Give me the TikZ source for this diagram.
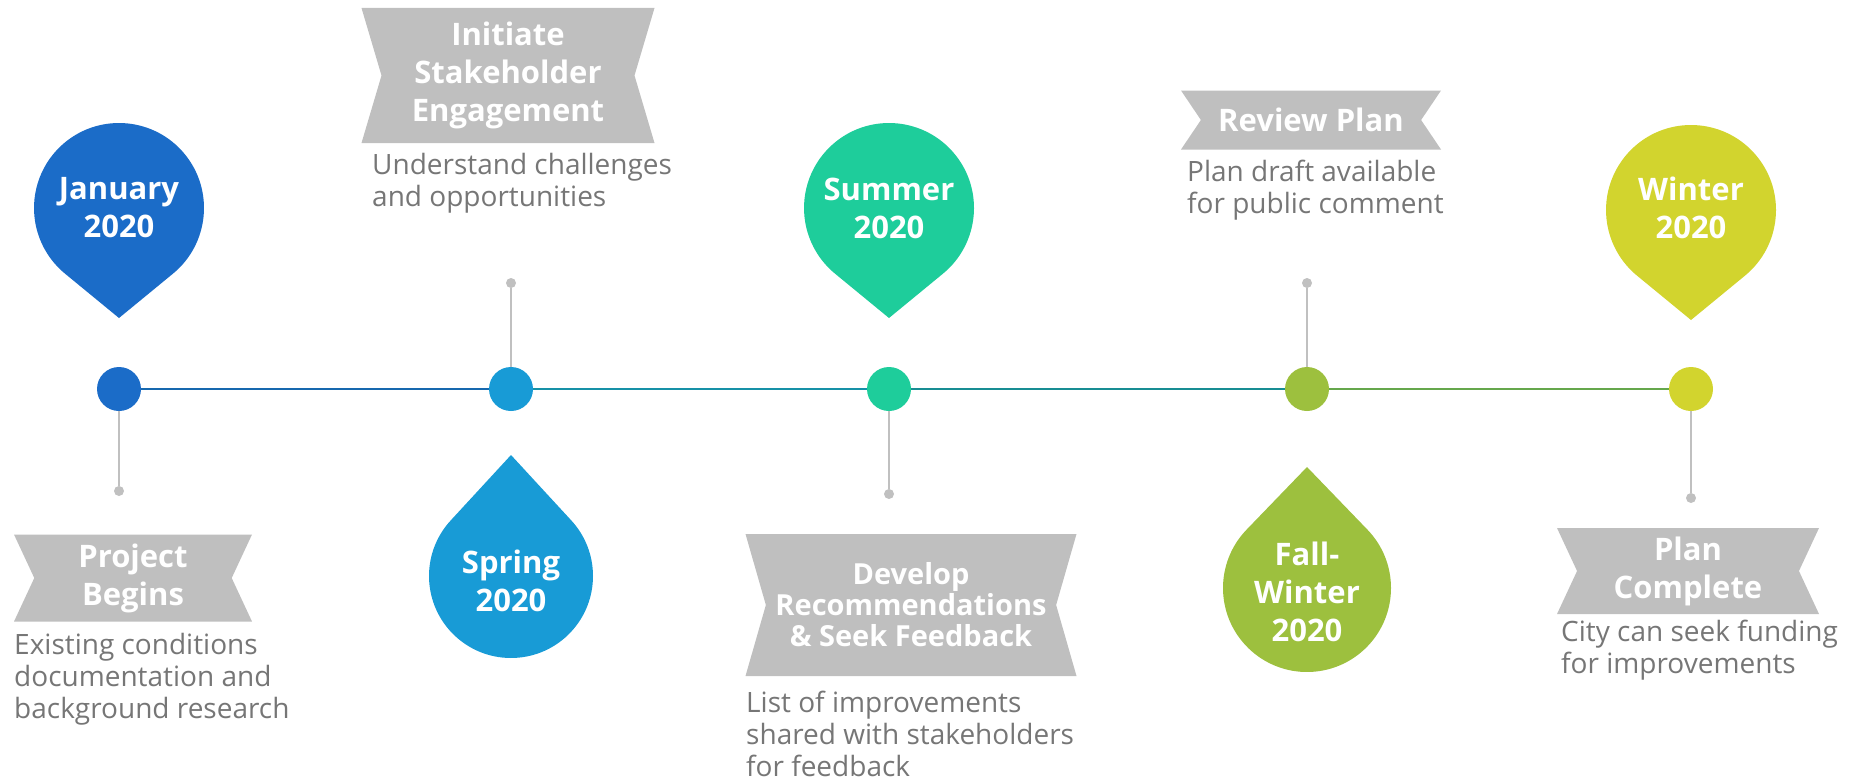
\documentclass[tikz,border=0pt]{standalone}
\usepackage{fontspec}
\setmainfont{Open Sans}
\usetikzlibrary{shapes.symbols,positioning}

\definecolor{jancol}{HTML}{1B6CC8}
\definecolor{sprcol}{HTML}{189BD6}
\definecolor{sumcol}{HTML}{1ECD9B}
\definecolor{falcol}{HTML}{9DC03E}
\definecolor{wincol}{HTML}{D2D42E}
\definecolor{bannergray}{HTML}{BFBFBF}
\definecolor{tickgray}{HTML}{C0C0C0}
\definecolor{descgray}{HTML}{767676}

\begin{document}
\begin{tikzpicture}[x=1pt,y=1pt,
  dot/.style={circle,fill=#1,minimum size=44pt,inner sep=0pt},
  tick/.style={circle,fill=tickgray,minimum size=10pt,inner sep=0pt},
  stem/.style={draw=tickgray,line width=1.5pt},
  axis/.style={line width=2pt},
  pinlabel/.style={text=white,align=center,inner sep=0pt,font=\bfseries\fontsize{31}{38}\selectfont},
  banner/.style={signal,signal from=west and east,signal to=nowhere,
    signal pointer angle=#1,fill=bannergray,text=white,align=center,
    inner sep=0pt,font=\bfseries\fontsize{31}{38}\selectfont},
  desc/.style={anchor=north west,align=left,inner sep=0pt,text=descgray,
    font=\fontsize{28}{32}\selectfont}]

  \useasboundingbox (0,0) rectangle (1852,-784);

  % pins above the line
  \fill[jancol] (119,-208) ++(-50.6:85) arc[start angle=-50.6,end angle=230.6,radius=85] -- (119,-318) -- cycle;
  \fill[sumcol] (889,-208) ++(-50.6:85) arc[start angle=-50.6,end angle=230.6,radius=85] -- (889,-318) -- cycle;
  \fill[wincol] (1691,-210) ++(-50.6:85) arc[start angle=-50.6,end angle=230.6,radius=85] -- (1691,-320) -- cycle;
  % drops below the line
  \fill[sprcol] (511,-576) ++(137.3:82) arc[start angle=137.3,end angle=402.7,radius=82] -- (511,-455) -- cycle;
  \fill[falcol] (1307,-588) ++(136:84) arc[start angle=136,end angle=404,radius=84] -- (1307,-467) -- cycle;

  \node[pinlabel] (p1) at (119,-208) {January\\2020};
  \node[pinlabel] (p2) at (511,-581) {Spring\\2020};
  \node[pinlabel] (p3) at (889,-208) {Summer\\2020};
  \node[pinlabel] (p4) at (1307,-592) {Fall-\\Winter\\2020};
  \node[pinlabel] (p5) at (1691,-208) {Winter\\2020};

  % timeline
  \node[dot=jancol] (d1) at (119,-389) {};
  \node[dot=sprcol] (d2) at (511,-389) {};
  \node[dot=sumcol] (d3) at (889,-389) {};
  \node[dot=falcol] (d4) at (1307,-389) {};
  \node[dot=wincol] (d5) at (1691,-389) {};

  \draw[axis,jancol!70!sprcol!85!black] (d1) -- (d2);
  \draw[axis,sprcol!70!sumcol!85!black] (d2) -- (d3);
  \draw[axis,sumcol!60!jancol!85!black] (d3) -- (d4);
  \draw[axis,falcol!70!sumcol!85!black] (d4) -- (d5);

  \node[tick] (t1) at (119,-491) {};
  \node[tick] (t2) at (511,-283) {};
  \node[tick] (t3) at (889,-494) {};
  \node[tick] (t4) at (1307,-283) {};
  \node[tick] (t5) at (1691,-498) {};

  \draw[stem] (d1) -- (t1);
  \draw[stem] (d2) -- (t2);
  \draw[stem] (d3) -- (t3);
  \draw[stem] (d4) -- (t4);
  \draw[stem] (d5) -- (t5);

  % banners
  \node[banner=130,minimum width=238pt,minimum height=87pt] (b1) at (133,-578) {Project\\Begins};
  \node[banner=147,minimum width=293pt,minimum height=135pt] (b2) at (508,-75.5) {Initiate\\Stakeholder\\Engagement};
  \node[banner=148,minimum width=331pt,minimum height=142pt,font=\bfseries\fontsize{29}{31}\selectfont] (b3) at (911,-605) {Develop\\Recommendations\\\& Seek Feedback};
  \node[banner=112,minimum width=260pt,minimum height=59pt] (b4) at (1311,-120) {Review Plan};
  \node[banner=130,minimum width=262pt,minimum height=86pt] (b5) at (1688,-571) {Plan\\Complete};

  \node[desc] (e1) at (14,-633) {Existing conditions\\documentation and\\background research};
  \node[desc] (e2) at (372,-153) {Understand challenges\\and opportunities};
  \node[desc] (e3) at (746,-691) {List of improvements\\shared with stakeholders\\for feedback};
  \node[desc] (e4) at (1187,-160) {Plan draft available\\for public comment};
  \node[desc] (e5) at (1561,-620) {City can seek funding\\for improvements};
\end{tikzpicture}
\end{document}
